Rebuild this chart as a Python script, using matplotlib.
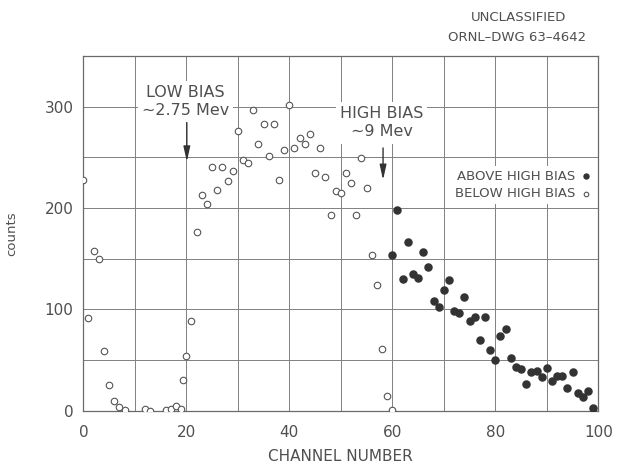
import matplotlib
matplotlib.use('Agg')
import matplotlib.pyplot as plt
from matplotlib.ticker import MultipleLocator

# Channels / counts below the high bias (open circles)
below_channel = [0, 1, 2, 3, 4, 5, 6, 7, 8, 12, 13, 16, 17, 18, 19, 19.3, 20,
                 21, 22, 23, 24, 25, 26, 27, 28, 29, 30, 31, 32, 33, 34, 35, 36,
                 37, 38, 39, 40, 41, 42, 43, 44, 45, 46, 47, 48, 49, 50, 51, 52,
                 53, 54, 55, 56, 57, 58, 59, 60]
below_counts = [228, 91, 158, 150, 59, 25, 10, 4, 1, 2, 0, 0.5, 2, 5, 2, 30, 54,
                89, 176, 213, 204, 240, 218, 240, 227, 237, 276, 247, 244, 297, 263, 283, 251,
                283, 228, 257, 302, 259, 269, 263, 273, 235, 259, 231, 193, 217, 215, 235, 225,
                193, 249, 220, 154, 124, 61, 15, 1]

# Channels / counts above the high bias (filled dots)
above_channel = [60, 61, 62, 63, 64, 65, 66, 67, 68, 69, 70, 71, 72, 73, 74, 75, 76,
                 77, 78, 79, 80, 81, 82, 83, 84, 85, 86, 87, 88, 89, 90, 91, 92, 93,
                 94, 95, 96, 97, 98, 99]
above_counts = [154, 198, 130, 166, 135, 131, 157, 142, 108, 102, 119, 129, 98, 96, 112, 89, 92,
                70, 92, 60, 50, 74, 81, 52, 43, 41, 26, 38, 39, 33, 42, 29, 34, 34,
                22, 38, 17, 14, 19, 3]

x_ticks = [0, 20, 40, 60, 80, 100]
y_ticks = [0, 100, 200, 300]

ink = '#4f4f4f'
grid_col = '#808080'

plt.rcParams['font.family'] = ['DejaVu Sans']

fig = plt.figure(figsize=(6.19, 4.69), dpi=100)
ax = fig.add_axes([0.1346, 0.1243, 0.8320, 0.7563])

ax.set_xlim(0, 100)
ax.set_ylim(0, 350)
ax.set_xticks(x_ticks)
ax.set_yticks(y_ticks)
ax.xaxis.set_minor_locator(MultipleLocator(10))
ax.yaxis.set_minor_locator(MultipleLocator(50))
ax.grid(which='both', color=grid_col, linewidth=0.7)
ax.set_axisbelow(True)
ax.tick_params(which='both', length=0)
ax.tick_params(axis='x', pad=10, labelsize=11, labelcolor=ink)
ax.tick_params(axis='y', pad=7, labelsize=11, labelcolor=ink)
for sp in ax.spines.values():
    sp.set_color('#6a6a6a')
    sp.set_linewidth(0.9)

below = ax.scatter(below_channel, below_counts, s=22, facecolors='white',
                   edgecolors='#555555', linewidths=0.8, zorder=3,
                   label='BELOW HIGH BIAS')
above = ax.scatter(above_channel, above_counts, s=26, color='#333333',
                   zorder=3, label='ABOVE HIGH BIAS')

ax.set_xlabel('CHANNEL NUMBER', fontsize=11, color=ink, labelpad=7)
ax.set_ylabel('counts', fontsize=9.5, color=ink)
ax.yaxis.set_label_coords(-0.127, 0.5)

# bias markers: labels blank out the grid behind them
box = dict(facecolor='white', edgecolor='none', pad=3)
ax.text(19.8, 305, 'LOW BIAS\n\u223c2.75 Mev', ha='center', va='center',
        fontsize=11.5, color=ink, linespacing=1.25, bbox=box, zorder=4)
ax.annotate('', xy=(20.1, 243), xytext=(20.1, 287),
            arrowprops=dict(arrowstyle='-|>,head_length=0.9,head_width=0.2',
                            color='#333333', lw=1.0), zorder=4)
ax.text(57.9, 284, 'HIGH BIAS\n\u223c9 Mev', ha='center', va='center',
        fontsize=11.5, color=ink, linespacing=1.25, bbox=box, zorder=4)
ax.annotate('', xy=(58.2, 225), xytext=(58.2, 262),
            arrowprops=dict(arrowstyle='-|>,head_length=0.9,head_width=0.2',
                            color='#333333', lw=1.0), zorder=4)

leg = ax.legend(handles=[above, below], loc='center right',
                bbox_to_anchor=(0.994, 0.636), markerfirst=False,
                frameon=True, fancybox=False, framealpha=1.0,
                edgecolor='none', facecolor='white', fontsize=9.5,
                markerscale=0.7, handletextpad=0.4, handlelength=0.8,
                labelspacing=0.35, borderpad=0.3, borderaxespad=0)
for t in leg.get_texts():
    t.set_color(ink)

fig.text(0.838, 0.963, 'UNCLASSIFIED', ha='center', va='center',
         fontsize=9.5, color=ink)
fig.text(0.836, 0.921, 'ORNL\u2013DWG 63\u20134642', ha='center', va='center',
         fontsize=9.5, color=ink)

fig.savefig('out.png', dpi=100)
